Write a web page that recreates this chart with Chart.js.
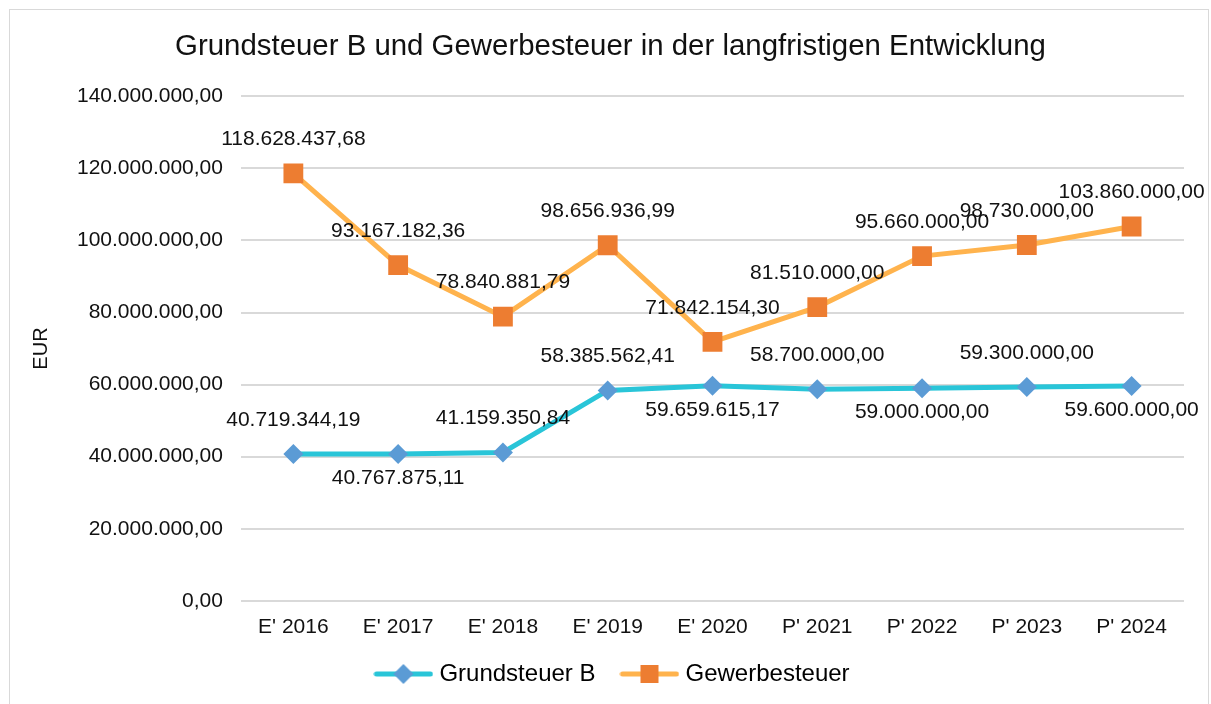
<!DOCTYPE html>
<html>
<head>
<meta charset="utf-8">
<script src="https://cdn.jsdelivr.net/npm/chart.js@4/dist/chart.umd.min.js"></script>
<style>
  html, body { margin: 0; padding: 0; background: #fff; }
  #frame { position: absolute; left: 9px; top: 9px; width: 1200px; height: 700px; border: 1px solid #d9d9d9; box-sizing: border-box; }
  #wrap { position: absolute; left: 0; top: 0; width: 1211px; height: 704px; }
</style>
</head>
<body>
<div id="frame"></div>
<div id="wrap"><canvas id="chart"></canvas></div>
<script>
const categories = ["E' 2016", "E' 2017", "E' 2018", "E' 2019", "E' 2020", "P' 2021", "P' 2022", "P' 2023", "P' 2024"];
const grundsteuer = [40719344.19, 40767875.11, 41159350.84, 58385562.41, 59659615.17, 58700000, 59000000, 59300000, 59600000];
const gewerbesteuer = [118628437.68, 93167182.36, 78840881.79, 98656936.99, 71842154.30, 81510000, 95660000, 98730000, 103860000];
const yMin = 0;
const yMax = 140000000;
const yStep = 20000000;

const FONT = '"Liberation Sans", Arial, Helvetica, sans-serif';

// 1.234.567,89
function fmtDE(v) {
  let parts = v.toFixed(2).split(".");
  let whole = parts[0].replace(/\B(?=(\d{3})+(?!\d))/g, ".");
  return whole + "," + parts[1];
}

// legend symbol: line with marker in the middle
function legendIcon(lineColor, markerColor, shape) {
  let c = document.createElement("canvas");
  c.width = 60;
  c.height = 22;
  let g = c.getContext("2d");
  g.strokeStyle = lineColor;
  g.lineWidth = 5;
  g.lineCap = "round";
  g.beginPath();
  g.moveTo(3, 11);
  g.lineTo(57, 11);
  g.stroke();
  g.fillStyle = markerColor;
  if (shape === "diamond") {
    g.beginPath();
    g.moveTo(30, 1);
    g.lineTo(40, 11);
    g.lineTo(30, 21);
    g.lineTo(20, 11);
    g.closePath();
    g.fill();
  } else {
    g.fillRect(21, 2, 18, 18);
  }
  return c;
}

const icons = [
  legendIcon("#29c5d8", "#5b9bd5", "diamond"),
  legendIcon("#ffb34d", "#ed7d31", "square"),
];

const valueLabels = {
  id: "valueLabels",
  afterDatasetsDraw(chart) {
    const ctx = chart.ctx;
    ctx.save();
    ctx.font = "21px " + FONT;
    ctx.fillStyle = "#111";
    ctx.textAlign = "center";
    ctx.textBaseline = "middle";
    chart.data.datasets.forEach((ds, i) => {
      const meta = chart.getDatasetMeta(i);
      meta.data.forEach((pt, j) => {
        const below = ds.labelSide[j] === "below";
        ctx.fillText(fmtDE(ds.data[j]), pt.x, below ? pt.y + 24 : pt.y - 34);
      });
    });
    ctx.restore();
  },
};

// move title / legend a bit, like the original
const nudge = {
  id: "nudge",
  afterLayout(chart) {
    chart.legend.left += 10;
    chart.legend.right += 10;
    chart.legend.top -= 14;
    chart.legend.bottom -= 14;
    chart.titleBlock.left += 6;
    chart.titleBlock.right += 6;
  },
};

new Chart(document.getElementById("chart"), {
  type: "line",
  data: {
    labels: categories,
    datasets: [
      {
        label: "Grundsteuer B",
        data: grundsteuer,
        borderColor: "#29c5d8",
        backgroundColor: "#5b9bd5",
        borderWidth: 5,
        pointStyle: "rectRot",
        pointRadius: 10,
        pointHoverRadius: 10,
        pointBorderWidth: 0,
        pointBackgroundColor: "#5b9bd5",
        tension: 0,
        labelSide: ["above", "below", "above", "above", "below", "above", "below", "above", "below"],
      },
      {
        label: "Gewerbesteuer",
        data: gewerbesteuer,
        borderColor: "#ffb34d",
        backgroundColor: "#ed7d31",
        borderWidth: 5,
        pointStyle: "rect",
        pointRadius: 14,
        pointHoverRadius: 14,
        pointBorderWidth: 0,
        pointBackgroundColor: "#ed7d31",
        tension: 0,
        labelSide: ["above", "above", "above", "above", "above", "above", "above", "above", "above"],
      },
    ],
  },
  options: {
    responsive: true,
    maintainAspectRatio: false,
    animation: false,
    layout: { padding: { left: 25, right: 27, top: 14, bottom: -6 } },
    plugins: {
      title: {
        display: true,
        text: "Grundsteuer B und Gewerbesteuer in der langfristigen Entwicklung",
        color: "#111",
        font: { family: FONT, size: 29.4, weight: "normal" },
        padding: { top: 15, bottom: 32 },
      },
      legend: {
        position: "bottom",
        labels: {
          usePointStyle: true,
          pointStyleWidth: 48,
          padding: 30,
          color: "#111",
          font: { family: FONT, size: 24 },
          generateLabels: (chart) =>
            chart.data.datasets.map((ds, i) => ({
              text: ds.label,
              pointStyle: icons[i],
              datasetIndex: i,
              fillStyle: ds.backgroundColor,
              strokeStyle: ds.borderColor,
              lineWidth: 0,
              hidden: false,
            })),
        },
      },
      tooltip: { enabled: false },
    },
    scales: {
      x: {
        offset: true,
        grid: { display: false },
        border: { display: false },
        ticks: { color: "#111", font: { family: FONT, size: 21 }, padding: 6 },
      },
      y: {
        min: yMin,
        max: yMax,
        border: { display: false },
        grid: { color: "#d9d9d9", lineWidth: 2, drawTicks: false },
        title: {
          display: true,
          text: "EUR",
          color: "#111",
          font: { family: FONT, size: 20 },
          padding: { top: 4, bottom: 6 },
        },
        ticks: {
          stepSize: yStep,
          color: "#111",
          font: { family: FONT, size: 21 },
          padding: 18,
          callback: (v) => fmtDE(v),
        },
      },
    },
  },
  plugins: [valueLabels, nudge],
});
</script>
</body>
</html>
